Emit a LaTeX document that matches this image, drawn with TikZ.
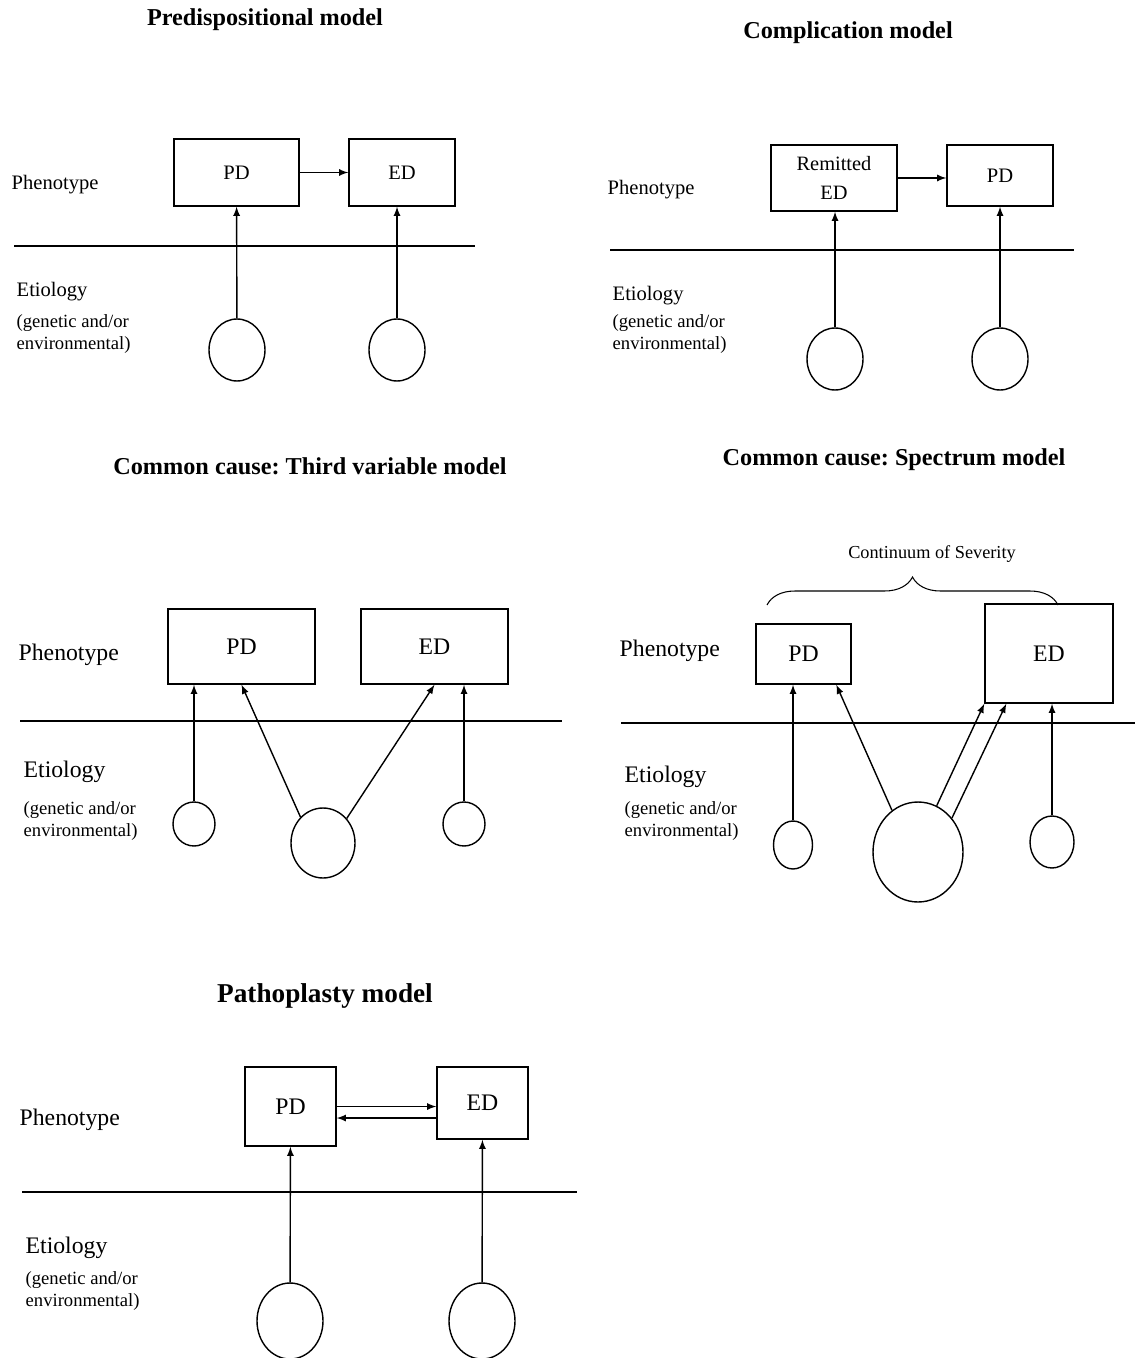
\documentclass[tikz,border=0pt]{standalone}
\usepackage{fontspec}
\setmainfont{Liberation Serif}
\usetikzlibrary{arrows,shapes.geometric,calc,decorations.pathreplacing}
\frenchspacing

\begin{document}
\begin{tikzpicture}[x=0.02cm, y=-0.02cm, line width=0.8pt, >=latex,
	title/.style={font=\fontsize{13.8}{16}\selectfont\bfseries},
	sm/.style={font=\fontsize{11.7}{14}\selectfont},
	lg/.style={font=\fontsize{13.5}{16}\selectfont},
	lbl/.style={anchor=west, inner sep=0pt},
	src/.style={anchor=west, inner sep=0pt, align=left, font=\fontsize{10.6}{12}\selectfont},
	box/.style={draw, inner sep=0pt},
	cause/.style={draw, ellipse, inner sep=0pt}]
\useasboundingbox (0,0) rectangle (1135,1358);

% Predispositional model
\node[title] (t1) at (265,20) {Predispositional model};
\node[lbl, sm] (ph1) at (11,185) {Phenotype};
\node[lbl, sm] (et1) at (16,292) {Etiology};
\node[src] (gen1) at (16,334) {(genetic and/or\\environmental)};
\node[box, sm, minimum width=2.5cm, minimum height=1.34cm] (pd1) at (236.5,172.5) {PD};
\node[box, sm, minimum width=2.12cm, minimum height=1.34cm] (ed1) at (402,172.5) {ED};
\node[cause, minimum width=1.12cm, minimum height=1.24cm] (c1a) at (237,350) {};
\node[cause, minimum width=1.12cm, minimum height=1.24cm] (c1b) at (397,350) {};
\draw (14,246) -- (475,246);
\path[->]
(pd1) edge (ed1)
(c1a) edge (pd1)
(c1b.north) edge (c1b.north |- ed1.south);

% Complication model
\node[title] (t2) at (848,33) {Complication model};
\node[lbl, sm] (ph2) at (607,190) {Phenotype};
\node[lbl, sm] (et2) at (612,296) {Etiology};
\node[src] (gen2) at (612,334) {(genetic and/or\\environmental)};
\node[box, align=center, font=\fontsize{11.6}{16}\selectfont, minimum width=2.52cm, minimum height=1.32cm] (rem2) at (834,178) {Remitted\\ED};
\node[box, sm, minimum width=2.12cm, minimum height=1.22cm] (pd2) at (1000,175.5) {PD};
\node[cause, minimum width=1.12cm, minimum height=1.24cm] (c2a) at (835,359) {};
\node[cause, minimum width=1.12cm, minimum height=1.24cm] (c2b) at (1000,359) {};
\draw (610,250) -- (1074,250);
\path[->]
(rem2) edge (rem2 -| pd2.west)
(c2a.north) edge (c2a.north |- rem2.south)
(c2b.north) edge (c2b.north |- pd2.south);

% Common cause: third variable
\node[title] (t3) at (310,466) {Common cause: Third variable model};
\node[lbl, lg] (ph3) at (18,655) {Phenotype};
\node[lbl, lg] (et3) at (23,772) {Etiology};
\node[src] (gen3) at (23,821) {(genetic and/or\\environmental)};
\node[box, lg, minimum width=2.94cm, minimum height=1.5cm] (pd3) at (241.5,646.5) {PD};
\node[box, lg, minimum width=2.94cm, minimum height=1.5cm] (ed3) at (434.5,646.5) {ED};
\node[cause, minimum width=0.84cm, minimum height=0.88cm] (c3a) at (194,824) {};
\node[cause, minimum width=1.28cm, minimum height=1.4cm] (c3b) at (323,843) {};
\node[cause, minimum width=0.84cm, minimum height=0.88cm] (c3c) at (464,824) {};
\draw (20,721) -- (562,721);
\path[->]
(c3a.north) edge (c3a.north |- pd3.south)
(c3b.131) edge (pd3.south)
(c3b.46) edge (ed3.south)
(c3c.north) edge (c3c.north |- ed3.south);

% Common cause: spectrum
\node[title] (t4) at (894,460) {Common cause: Spectrum model};
\node[font=\fontsize{10.4}{12}\selectfont] (sev) at (932,554) {Continuum of Severity};
\coordinate (br1) at (767,605);
\coordinate (br2) at (1058,605);
\draw[line width=0.6pt, decorate, decoration={brace, amplitude=0.56cm}] (br1) -- (br2);
\node[lbl, lg] (ph4) at (619,651) {Phenotype};
\node[lbl, lg] (et4) at (624,777) {Etiology};
\node[src] (gen4) at (624,821) {(genetic and/or\\environmental)};
\node[box, lg, minimum width=1.9cm, minimum height=1.2cm] (pd4) at (803.5,654) {PD};
\node[box, lg, minimum width=2.56cm, minimum height=1.98cm] (ed4) at (1049,653.5) {ED};
\node[cause, minimum width=0.78cm, minimum height=0.96cm] (c4a) at (793,845) {};
\node[cause, minimum width=1.8cm, minimum height=2cm] (c4b) at (918,852) {};
\node[cause, minimum width=0.88cm, minimum height=1.04cm] (c4c) at (1052,842) {};
\draw (621,723) -- (1135,723);
\path[->]
(c4a.north) edge (c4a.north |- pd4.south)
(c4b.122) edge ($(pd4.south west)!0.84!(pd4.south east)$)
(c4b.68) edge (ed4.south west)
(c4b.45) edge ($(ed4.south west)!0.17!(ed4.south east)$)
(c4c.north) edge (c4c.north |- ed4.south);

% Pathoplasty model
\node[title, font=\fontsize{15.5}{18}\selectfont\bfseries] (t5) at (325,996) {Pathoplasty model};
\node[lbl, lg] (ph5) at (19,1120) {Phenotype};
\node[lbl, lg] (et5) at (25,1248) {Etiology};
\node[src, font=\fontsize{10.6}{13}\selectfont] (gen5) at (25,1291) {(genetic and/or\\environmental)};
\node[box, lg, minimum width=1.82cm, minimum height=1.58cm] (pd5) at (290.5,1106.5) {PD};
\node[box, lg, minimum width=1.82cm, minimum height=1.44cm] (ed5) at (482.5,1103) {ED};
\node[cause, minimum width=1.32cm, minimum height=1.52cm] (c5a) at (290,1321) {};
\node[cause, minimum width=1.32cm, minimum height=1.52cm] (c5b) at (482,1321) {};
\coordinate (b5) at ($(ed5.west)+(0,15)$);
\draw (22,1192) -- (577,1192);
\path[->]
(pd5) edge (pd5 -| ed5.west)
(b5) edge (b5 -| pd5.east)
(c5a) edge (pd5)
(c5b) edge (ed5);
\end{tikzpicture}
\end{document}
